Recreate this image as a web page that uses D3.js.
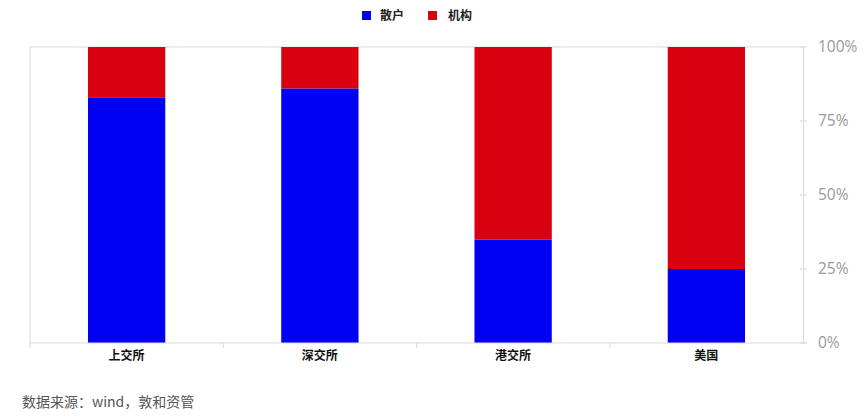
<!DOCTYPE html>
<html><head><meta charset="utf-8">
<script src="https://cdn.jsdelivr.net/npm/d3@7"></script>
<style>body{margin:0;background:#fff;}svg{display:block;font-family:"Noto Sans CJK SC","Noto Sans",sans-serif;}</style>
</head><body><svg id="c" width="864" height="420"></svg>
<script>
const categories = ["上交所", "深交所", "港交所", "美国"];
const retail = [83, 86, 35, 25];
const institution = [17, 14, 65, 75];
const seriesNames = ["散户", "机构"];
const seriesColors = ["#0000f2", "#d9000f"];
const yTicks = [0, 25, 50, 75, 100];

(function () {
const svg = d3.select("#c");
const pL = 30, pR = 803, pT = 47, pB = 343;
const x = d3.scaleBand().domain(categories).range([pL, pR]).paddingInner(0.6).paddingOuter(0.3);
const xb = d3.scaleBand().domain(categories).range([pL, pR]);
const y = d3.scaleLinear().domain([0, 100]).range([pB, pT]);

const frame = "#d9d9d9";
svg.append("line").attr("x1", pL).attr("x2", pR).attr("y1", pT).attr("y2", pT).attr("stroke", frame);
svg.append("line").attr("x1", pL).attr("x2", pL).attr("y1", pT).attr("y2", pB).attr("stroke", frame);

const data = categories.map((c, i) => ({cat: c, retail: retail[i], institution: institution[i]}));
const stack = d3.stack().keys(["retail", "institution"])(data);
svg.append("g").selectAll("g").data(stack).join("g")
  .attr("fill", (d, i) => seriesColors[i])
  .selectAll("rect").data(d => d).join("rect")
  .attr("x", d => x(d.data.cat)).attr("width", x.bandwidth())
  .attr("y", d => y(d[1])).attr("height", d => y(d[0]) - y(d[1]));

const ya = svg.append("g").attr("transform", `translate(${pR},0)`)
  .call(d3.axisRight(y).tickValues(yTicks).tickFormat(d => d + "%").tickSize(0).tickPadding(15));
ya.select(".domain").attr("stroke", frame);
ya.selectAll("text").attr("fill", "#9a9a9a").style("font-size", "15.5px").style("font-family", "'Open Sans','Noto Sans',sans-serif");
svg.append("g").selectAll("line").data(yTicks).join("line")
  .attr("x1", pR - 3).attr("x2", pR + 4).attr("y1", d => y(d)).attr("y2", d => y(d)).attr("stroke", frame);

svg.append("line").attr("x1", pL).attr("x2", pR + 4).attr("y1", pB).attr("y2", pB).attr("stroke", frame);
svg.append("g").selectAll("line").data(categories).join("line")
  .attr("x1", d => xb(d)).attr("x2", d => xb(d)).attr("y1", pB).attr("y2", pB + 5).attr("stroke", frame);
svg.append("g").selectAll("text").data(categories).join("text")
  .attr("x", d => x(d) + x.bandwidth() / 2).attr("y", 360)
  .attr("text-anchor", "middle").attr("font-size", 12).attr("font-weight", "bold").attr("fill", "#111")
  .text(d => d);

const lg = [{x: 362, t: 380}, {x: 428, t: 448}];
seriesNames.forEach((n, i) => {
  svg.append("rect").attr("x", lg[i].x).attr("y", 11).attr("width", 9).attr("height", 9).attr("fill", seriesColors[i]);
  svg.append("text").attr("x", lg[i].t).attr("y", 20).attr("font-size", 12).attr("font-weight", "bold").attr("fill", "#222").text(n);
});

svg.append("text").attr("x", 22).attr("y", 407).attr("font-size", 14).attr("fill", "#555").text("数据来源：wind，敦和资管");
})();
</script></body></html>
